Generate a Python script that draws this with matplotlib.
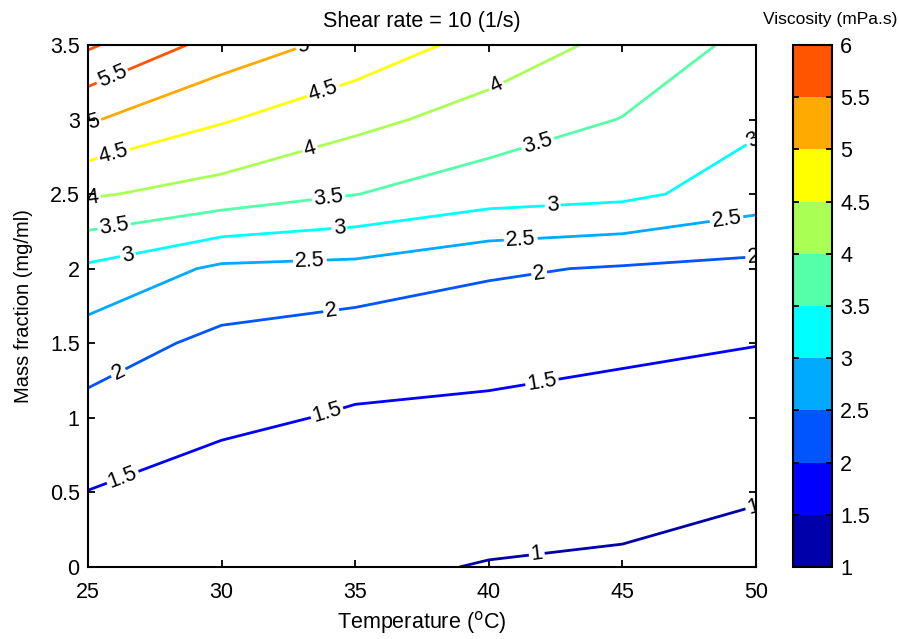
import matplotlib.pyplot as plt
import numpy as np
from matplotlib.cm import ScalarMappable
from matplotlib.colors import BoundaryNorm, ListedColormap
from matplotlib.ticker import FormatStrFormatter

plt.rcParams["font.family"] = ["Liberation Sans", "DejaVu Sans"]

# Measurement grid
TEMPERATURE = [25, 30, 35, 40, 45, 50]  # degC
MASS_FRACTION = [0.0, 0.5, 1.0, 1.5, 2.0, 2.5, 3.0, 3.5]  # mg/ml

# Viscosity (mPa.s), one row per mass fraction, one column per temperature
VISCOSITY = [
    [1.25, 1.10, 1.075, 0.979, 0.935, 0.81],
    [1.49, 1.323, 1.27, 1.20, 1.147, 1.042],
    [1.833, 1.576, 1.461, 1.42, 1.36, 1.276],
    [2.25, 1.871, 1.677, 1.64, 1.572, 1.51],
    [2.91, 2.406, 2.35, 2.07, 1.954, 1.857],
    [4.06, 3.80, 3.51, 3.229, 3.12, 2.75],
    [5.05, 4.545, 4.14, 3.793, 3.485, 3.088],
    [6.07, 5.30, 4.83, 4.31, 3.854, 3.348],
]

LEVELS = [1, 1.5, 2, 2.5, 3, 3.5, 4, 4.5, 5, 5.5, 6]

# jet(10)
JET10 = [
    "#0000aa",
    "#0000ff",
    "#0055ff",
    "#00aaff",
    "#00ffff",
    "#55ffaa",
    "#aaff55",
    "#ffff00",
    "#ffaa00",
    "#ff5500",
]

FS = 15.5  # main text size

cmap = ListedColormap(JET10)
norm = BoundaryNorm(LEVELS, cmap.N)
line_colors = [JET10[min(int(round((lv - LEVELS[0]) * 2)), len(JET10) - 1)] for lv in LEVELS]

fig = plt.figure(figsize=(8.99, 6.39), dpi=100)
ax = fig.add_axes([0.0979, 0.1127, 0.743, 0.817])

T, M = np.meshgrid(TEMPERATURE, MASS_FRACTION)
cs = ax.contour(T, M, np.array(VISCOSITY), levels=LEVELS, colors=line_colors, linewidths=2.0)

# Label spots along each contour
spots = [
    (41.8, 0.08), (49.9, 0.40),
    (26.3, 0.60), (33.9, 1.06), (42.0, 1.23),
    (26.2, 1.28), (34.1, 1.72), (41.9, 1.95), (49.9, 2.08),
    (33.3, 2.07), (41.2, 2.18), (48.9, 2.33),
    (26.5, 2.08), (34.4, 2.29), (42.4, 2.40), (49.9, 2.86),
    (26.0, 2.26), (34.0, 2.48), (41.9, 2.80),
    (25.2, 2.46), (33.3, 2.81), (40.3, 3.22),
    (26.0, 2.74), (33.9, 3.14),
    (25.2, 2.99), (33.1, 3.47),
    (26.0, 3.25),
]
labels = ax.clabel(cs, manual=spots, fmt="%g", fontsize=FS, colors="k", inline=True, inline_spacing=2)
for t in labels:
    t.set_clip_on(True)

ax.set_xlim(25, 50)
ax.set_ylim(0, 3.5)
ax.set_xticks(TEMPERATURE)
ax.set_yticks(MASS_FRACTION)
ax.yaxis.set_major_formatter(FormatStrFormatter("%g"))
ax.tick_params(direction="in", top=True, right=True, length=5, width=1.3, labelsize=FS, pad=6)
ax.tick_params(axis="x", pad=11)
for spine in ax.spines.values():
    spine.set_linewidth(1.5)

ax.set_xlabel("Temperature ($^{\\rm o}$C)", fontsize=FS, labelpad=4)
ax.set_ylabel("Mass fraction (mg/ml)", fontsize=14.5, labelpad=12)
ax.set_title("Shear rate = 10 (1/s)", fontsize=FS, pad=13)

# Colorbar, same height as the plot area
cax = fig.add_axes([0.882, 0.1127, 0.0434, 0.817])
cb = fig.colorbar(ScalarMappable(norm=norm, cmap=cmap), cax=cax, ticks=LEVELS)
cb.ax.yaxis.set_major_formatter(FormatStrFormatter("%g"))
cb.ax.tick_params(direction="in", left=True, right=True, length=4, width=1.3, labelsize=FS, pad=6)
cb.outline.set_linewidth(1.5)
fig.text(0.923, 0.97, "Viscosity (mPa.s)", ha="center", va="center", fontsize=12.5)

plt.savefig("out.png", dpi=100)
